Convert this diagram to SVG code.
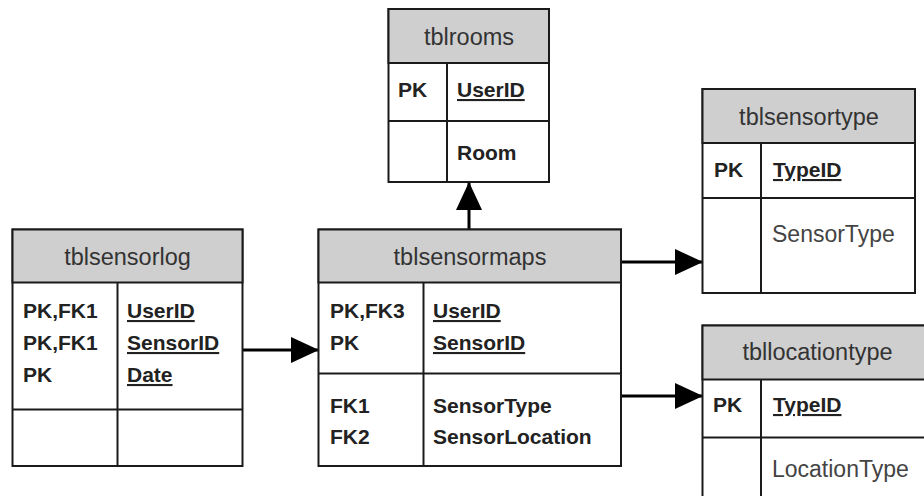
<svg xmlns="http://www.w3.org/2000/svg" width="924" height="496" viewBox="0 0 924 496">
<style>
.box{fill:#ffffff;stroke:#1a1a1a;stroke-width:2}
.hdr{fill:#cfcfcf;stroke:#1a1a1a;stroke-width:2}
.ln{stroke:#1a1a1a;stroke-width:2;fill:none}
.ht{font-family:"Liberation Sans",Arial,sans-serif;font-size:23.5px;fill:#333333;text-anchor:middle}
.b{font-family:"Liberation Sans",Arial,sans-serif;font-size:21px;font-weight:bold;fill:#222222}
.r{font-family:"Liberation Sans",Arial,sans-serif;font-size:23px;fill:#444444}
.u{text-decoration:underline}
.conn{stroke:#000000;stroke-width:3;fill:none}
</style>
<defs>
<marker id="ah" markerUnits="userSpaceOnUse" markerWidth="28" markerHeight="26" refX="27" refY="13" orient="auto">
<path d="M0,0 L28,13 L0,26 z" fill="#000000"/>
</marker>
</defs>
<rect width="924" height="496" fill="#ffffff"/>
<g id="connectors">
<line class="conn" x1="469" y1="229" x2="469" y2="183" marker-end="url(#ah)"/>
<line class="conn" x1="243" y1="350" x2="318" y2="350" marker-end="url(#ah)"/>
<line class="conn" x1="621" y1="262" x2="702" y2="262" marker-end="url(#ah)"/>
<line class="conn" x1="621" y1="396" x2="702" y2="396" marker-end="url(#ah)"/>
</g>
<g id="tblrooms">
<rect class="box" x="388.5" y="9" width="160.5" height="173"/>
<rect class="hdr" x="388.5" y="9" width="160.5" height="54"/>
<line class="ln" x1="447" y1="63" x2="447" y2="182"/>
<line class="ln" x1="388.5" y1="121" x2="549" y2="121"/>
<text class="ht" x="469" y="45">tblrooms</text>
<text class="b" x="398" y="97">PK</text>
<text class="b u" x="457" y="97">UserID</text>
<text class="b" x="457" y="160">Room</text>
</g>
<g id="tblsensortype">
<rect class="box" x="702.5" y="89" width="212.5" height="204"/>
<rect class="hdr" x="702.5" y="89" width="212.5" height="54"/>
<line class="ln" x1="761" y1="143" x2="761" y2="293"/>
<line class="ln" x1="702.5" y1="198" x2="915" y2="198"/>
<text class="ht" x="809" y="125">tblsensortype</text>
<text class="b" x="714" y="177">PK</text>
<text class="b u" x="773" y="177">TypeID</text>
<text class="r" x="772" y="242">SensorType</text>
</g>
<g id="tblsensorlog">
<rect class="box" x="12.5" y="229.5" width="230" height="236.5"/>
<rect class="hdr" x="12.5" y="229.5" width="230" height="53"/>
<line class="ln" x1="117.5" y1="282.5" x2="117.5" y2="466"/>
<line class="ln" x1="12.5" y1="409.5" x2="242.5" y2="409.5"/>
<text class="ht" x="127.5" y="265">tblsensorlog</text>
<text class="b" x="23" y="318">PK,FK1</text>
<text class="b" x="23" y="350">PK,FK1</text>
<text class="b" x="23" y="382">PK</text>
<text class="b u" x="127" y="318">UserID</text>
<text class="b u" x="127" y="350">SensorID</text>
<text class="b u" x="127" y="382">Date</text>
</g>
<g id="tblsensormaps">
<rect class="box" x="318.5" y="229.5" width="302.5" height="236.5"/>
<rect class="hdr" x="318.5" y="229.5" width="302.5" height="53"/>
<line class="ln" x1="423.5" y1="282.5" x2="423.5" y2="466"/>
<line class="ln" x1="318.5" y1="373.5" x2="621" y2="373.5"/>
<text class="ht" x="470" y="265">tblsensormaps</text>
<text class="b" x="330" y="318">PK,FK3</text>
<text class="b" x="330" y="350">PK</text>
<text class="b u" x="433" y="318">UserID</text>
<text class="b u" x="433" y="350">SensorID</text>
<text class="b" x="330" y="413">FK1</text>
<text class="b" x="330" y="444">FK2</text>
<text class="b" x="433" y="413">SensorType</text>
<text class="b" x="433" y="444">SensorLocation</text>
</g>
<g id="tbllocationtype">
<rect class="box" x="702.5" y="325.5" width="230" height="180"/>
<rect class="hdr" x="702.5" y="325.5" width="230" height="54"/>
<line class="ln" x1="761" y1="379.5" x2="761" y2="505"/>
<line class="ln" x1="702.5" y1="437.5" x2="932" y2="437.5"/>
<text class="ht" x="817.5" y="360">tbllocationtype</text>
<text class="b" x="713" y="412">PK</text>
<text class="b u" x="773" y="412">TypeID</text>
<text class="r" x="772" y="477">LocationType</text>
</g>
</svg>
